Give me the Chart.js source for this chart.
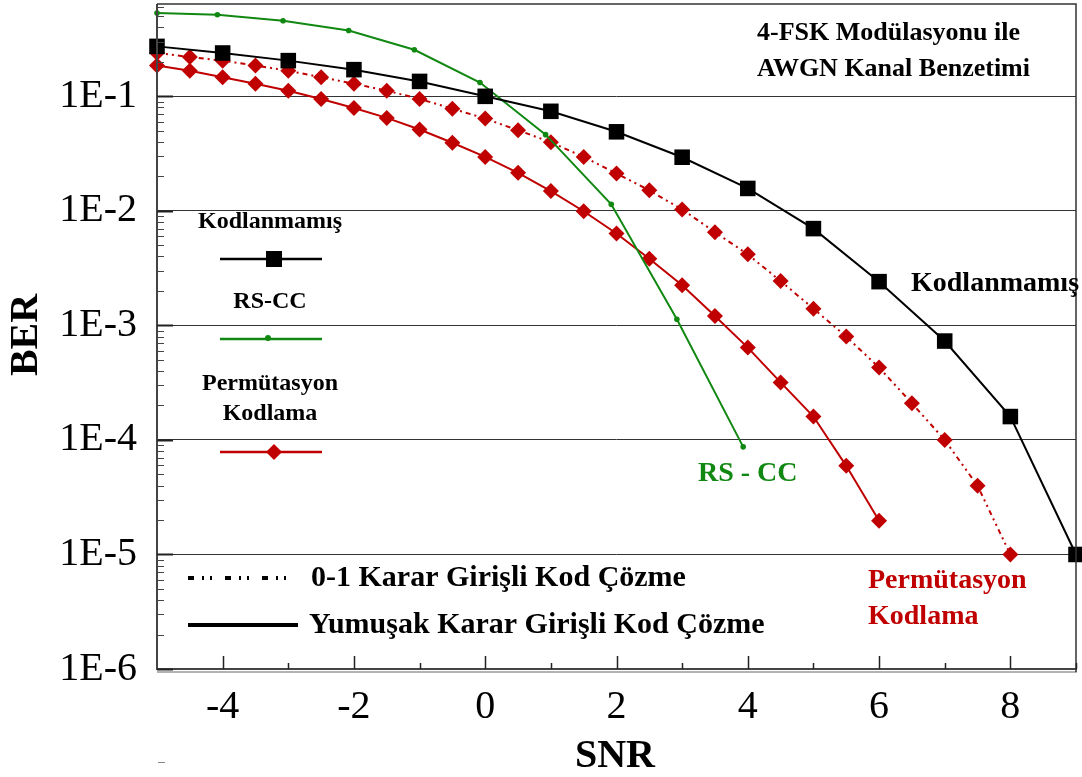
<!DOCTYPE html>
<html>
<head>
<meta charset="utf-8">
<script src="https://cdn.jsdelivr.net/npm/chart.js@4.4.1/dist/chart.umd.min.js"></script>
<style>
html,body{margin:0;padding:0;background:#fff;}
canvas{display:block;}
</style>
</head>
<body>
<canvas id="c" width="1082" height="777"></canvas>
<script>
// ---- data ----
const snrUncoded = [-5,-4,-3,-2,-1,0,1,2,3,4,5,6,7,8,9];
const berUncoded = [0.273,0.239,0.205,0.171,0.135,0.100,0.074,0.049,0.0294,0.0157,0.0070,0.00241,0.00073,0.000160,0.00001];

const snrRSCC = [-5,-4.08,-3.08,-2.08,-1.08,-0.08,0.92,1.92,2.92,3.93];
const berRSCC = [0.533,0.515,0.457,0.376,0.255,0.132,0.0463,0.0114,0.00113,0.000087];

const snrPermSoft = [-5,-4.5,-4,-3.5,-3,-2.5,-2,-1.5,-1,-0.5,0,0.5,1,1.5,2,2.5,3,3.5,4,4.5,5,5.5,6];
const berPermSoft = [0.186,0.167,0.147,0.129,0.112,0.0949,0.0792,0.0648,0.0513,0.0393,0.0296,0.0215,0.0149,0.00993,0.00635,0.00382,0.00224,0.00121,0.00064,0.000318,0.000160,0.0000594,0.0000197];

const snrPermHard = [-5,-4.5,-4,-3.5,-3,-2.5,-2,-1.5,-1,-0.5,0,0.5,1,1.5,2,2.5,3,3.5,4,4.5,5,5.5,6,6.5,7,7.5,8];
const berPermHard = [0.239,0.220,0.205,0.186,0.167,0.147,0.129,0.112,0.0949,0.0781,0.0639,0.0506,0.0397,0.0296,0.0212,0.0151,0.0103,0.00652,0.00417,0.00244,0.00140,0.000798,0.000428,0.000209,0.000100,0.0000398,0.00001];

const xTickValues = [-4,-2,0,2,4,6,8];
const yTickValues = [1e-6,1e-5,1e-4,1e-3,1e-2,1e-1];
const yTickLabels = ['1E-6','1E-5','1E-4','1E-3','1E-2','1E-1'];

const BLACK = '#000000', GREEN = '#118811', RED = '#c00000';
const SERIF = '"Liberation Serif", "Times New Roman", serif';

function pts(xs, ys){ return xs.map((x,i)=>({x:x, y:ys[i]})); }
function zeroPad(s){ s.paddingTop = 0; s.paddingBottom = 0; s.paddingLeft = 0; s.paddingRight = 0; }

const decor = {
  id:'decor',
  afterDraw(chart){
    const ctx = chart.ctx, a = chart.chartArea;
    const xs = chart.scales.x, ys = chart.scales.y;
    ctx.save();
    // borders
    ctx.strokeStyle = '#444'; ctx.lineWidth = 2;
    ctx.beginPath();
    ctx.moveTo(a.left, a.top); ctx.lineTo(a.left, a.bottom+1);
    ctx.moveTo(a.left, a.bottom); ctx.lineTo(a.right+1, a.bottom);
    ctx.stroke();
    ctx.strokeStyle = '#666'; ctx.lineWidth = 1;
    ctx.beginPath();
    ctx.moveTo(a.left, a.bottom+3); ctx.lineTo(a.right+1, a.bottom+3);
    ctx.stroke();
    ctx.strokeStyle = '#333'; ctx.lineWidth = 1.5;
    ctx.beginPath();
    ctx.moveTo(a.left, a.top); ctx.lineTo(a.right, a.top); ctx.lineTo(a.right, a.bottom+3);
    ctx.stroke();
    // y major ticks
    ctx.strokeStyle = '#222'; ctx.lineWidth = 2;
    ctx.beginPath();
    for (let e=-6; e<=-1; e++){
      const y = Math.round(ys.getPixelForValue(Math.pow(10,e)))+0.5;
      ctx.moveTo(a.left, y); ctx.lineTo(a.left+16, y);
    }
    ctx.stroke();
    // y minor ticks
    ctx.strokeStyle = '#444'; ctx.lineWidth = 1;
    ctx.beginPath();
    for (let e=-6; e<=-1; e++){
      for (let m=2; m<=9; m++){
        const v = m*Math.pow(10,e);
        if (v > ys.max) continue;
        const y = Math.round(ys.getPixelForValue(v))+0.5;
        ctx.moveTo(a.left, y); ctx.lineTo(a.left+7, y);
      }
    }
    ctx.stroke();
    // x ticks
    ctx.strokeStyle = '#222'; ctx.lineWidth = 1.5;
    ctx.beginPath();
    for (let v=-4; v<=9; v++){
      const x = Math.round(xs.getPixelForValue(v))+0.5;
      const len = (v%2===0) ? 13 : 6;
      ctx.moveTo(x, a.bottom); ctx.lineTo(x, a.bottom-len);
    }
    ctx.stroke();

    // axis titles
    ctx.fillStyle = '#000';
    ctx.font = 'bold 40px ' + SERIF;
    ctx.textAlign = 'center'; ctx.textBaseline = 'middle';
    ctx.fillText('SNR', 615, 757);
    ctx.save();
    ctx.translate(27, 335); ctx.rotate(-Math.PI/2);
    ctx.fillText('BER', 0, 0);
    ctx.restore();

    // top-right title
    ctx.textAlign = 'left';
    ctx.font = 'bold 26px ' + SERIF;
    ctx.fillText('4-FSK Modülasyonu ile', 757, 33);
    ctx.fillText('AWGN Kanal Benzetimi', 757, 69);

    // curve labels
    ctx.font = 'bold 28px ' + SERIF;
    ctx.fillText('Kodlanmamış', 911, 284);
    ctx.fillStyle = GREEN;
    ctx.fillText('RS - CC', 698, 474);
    ctx.fillStyle = RED;
    ctx.fillText('Permütasyon', 868, 581);
    ctx.fillText('Kodlama', 868, 617);

    // left legend
    ctx.fillStyle = '#000';
    ctx.textAlign = 'center';
    ctx.font = 'bold 24px ' + SERIF;
    ctx.fillText('Kodlanmamış', 270, 222);
    ctx.fillText('RS-CC', 270, 302);
    ctx.fillText('Permütasyon', 270, 384);
    ctx.fillText('Kodlama', 270, 414);

    ctx.lineWidth = 2.5;
    ctx.strokeStyle = BLACK;
    ctx.beginPath(); ctx.moveTo(220, 259); ctx.lineTo(322, 259); ctx.stroke();
    ctx.fillStyle = BLACK; ctx.fillRect(266, 251, 16, 16);
    ctx.strokeStyle = GREEN;
    ctx.beginPath(); ctx.moveTo(220, 339); ctx.lineTo(322, 339); ctx.stroke();
    ctx.fillStyle = GREEN; ctx.beginPath(); ctx.arc(268, 338, 3, 0, Math.PI*2); ctx.fill();
    ctx.strokeStyle = RED;
    ctx.beginPath(); ctx.moveTo(220, 452); ctx.lineTo(322, 452); ctx.stroke();
    ctx.fillStyle = RED; ctx.beginPath();
    ctx.moveTo(274, 444); ctx.lineTo(282, 452); ctx.lineTo(274, 460); ctx.lineTo(266, 452); ctx.closePath(); ctx.fill();

    // bottom legend
    ctx.strokeStyle = '#000';
    ctx.lineWidth = 4;
    ctx.setLineDash([6,8,2,6,2,13]);
    ctx.beginPath(); ctx.moveTo(188, 578); ctx.lineTo(290, 578); ctx.stroke();
    ctx.setLineDash([]);
    ctx.beginPath(); ctx.moveTo(188, 625); ctx.lineTo(298, 625); ctx.stroke();
    ctx.fillStyle = '#000';
    ctx.textAlign = 'left';
    ctx.font = 'bold 30px ' + SERIF;
    ctx.fillText('0-1 Karar Girişli Kod Çözme', 311, 578);
    ctx.fillText('Yumuşak Karar Girişli Kod Çözme', 309, 625);

    // stray mark
    ctx.strokeStyle = '#888'; ctx.lineWidth = 1;
    ctx.beginPath(); ctx.moveTo(158, 762.5); ctx.lineTo(165, 762.5); ctx.stroke();
    ctx.restore();
  }
};

new Chart(document.getElementById('c'), {
  type: 'line',
  data: {
    datasets: [
      {
        label: 'Kodlanmamış',
        data: pts(snrUncoded, berUncoded),
        borderColor: BLACK, backgroundColor: BLACK, borderWidth: 2,
        pointStyle: 'rect', pointRadius: 11, pointBorderWidth: 0,
        clip: false, tension: 0
      },
      {
        label: 'RS-CC',
        data: pts(snrRSCC, berRSCC),
        borderColor: GREEN, backgroundColor: GREEN, borderWidth: 2,
        pointStyle: 'circle', pointRadius: 2.8, pointBorderWidth: 0,
        clip: false, tension: 0
      },
      {
        label: 'Permütasyon Kodlama (Yumuşak)',
        data: pts(snrPermSoft, berPermSoft),
        borderColor: RED, backgroundColor: RED, borderWidth: 2,
        pointStyle: 'rectRot', pointRadius: 8, pointBorderWidth: 0,
        clip: false, tension: 0
      },
      {
        label: 'Permütasyon Kodlama (0-1)',
        data: pts(snrPermHard, berPermHard),
        borderColor: RED, backgroundColor: RED, borderWidth: 2,
        borderDash: [5,4,2,4,2,4],
        pointStyle: 'rectRot', pointRadius: 8, pointBorderWidth: 0,
        clip: false, tension: 0
      }
    ]
  },
  options: {
    responsive: false,
    animation: false,
    devicePixelRatio: 1,
    layout: { autoPadding: false, padding: { top: 4, right: 6, left: 0, bottom: 0 } },
    plugins: { legend: { display: false }, tooltip: { enabled: false }, title: { display: false } },
    scales: {
      x: {
        type: 'linear', min: -5, max: 9, bounds: 'data',
        afterBuildTicks: s => { s.ticks = xTickValues.map(v => ({ value: v })); },
        afterFit: s => { s.height = 108; zeroPad(s); },
        grid: { display: false, drawTicks: false },
        border: { display: false },
        ticks: {
          color: '#000', padding: 14, maxRotation: 0, autoSkip: false,
          font: { family: SERIF, size: 40 },
          callback: v => String(v)
        }
      },
      y: {
        type: 'logarithmic', min: 1e-6, max: 0.64, bounds: 'data',
        afterBuildTicks: s => { s.ticks = yTickValues.map(v => ({ value: v })); },
        afterFit: s => { s.width = 157; zeroPad(s); },
        grid: { display: true, drawTicks: false, color: '#333', lineWidth: 1 },
        border: { display: false },
        ticks: {
          color: '#000', padding: 20, autoSkip: false,
          font: { family: SERIF, size: 40 },
          callback: v => yTickLabels[yTickValues.findIndex(t => Math.abs(Math.log10(t) - Math.log10(v)) < 1e-6)]
        }
      }
    }
  },
  plugins: [decor]
});
</script>
</body>
</html>
